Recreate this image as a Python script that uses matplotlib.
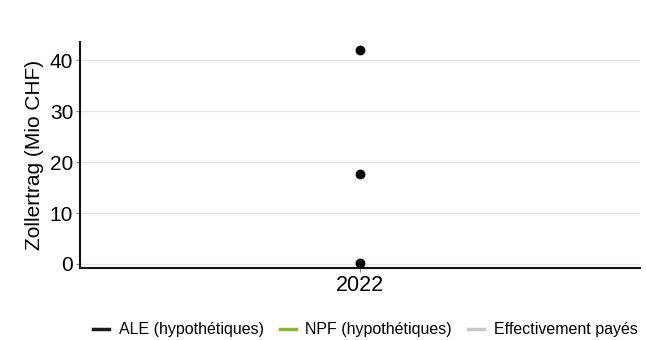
import matplotlib
matplotlib.use("Agg")
import matplotlib.pyplot as plt
from matplotlib.lines import Line2D

plt.rcParams['font.family'] = ['Liberation Sans', 'DejaVu Sans']

categories = ["2022"]
ale_values = [42.0]
npf_values = [17.7]
paid_values = [0.2]
y_ticks = [0, 10, 20, 30, 40]
legend_labels = ["ALE (hypothétiques)", "NPF (hypothétiques)", "Effectivement payés"]
legend_colors = ["#1a1a1a", "#8fb339", "#c8c8c8"]

fig = plt.figure(figsize=(6.46, 3.4), dpi=100)
ax = fig.add_axes([0.124, 0.212, 0.866, 0.664])

x = list(range(len(categories)))
for vals in (ale_values, npf_values, paid_values):
    ax.scatter(x, vals, s=50, color="black", zorder=3, linewidths=0)

ax.set_xlim(-1, 1)
ax.set_ylim(-0.8, 43.6)
ax.set_xticks(x)
ax.set_xticklabels(categories, fontsize=15.5)
ax.set_yticks(y_ticks)
ax.set_yticklabels([str(t) for t in y_ticks], fontsize=15)
ax.set_ylabel("Zollertrag (Mio CHF)", fontsize=15, labelpad=4)
ax.yaxis.grid(True, color="#e6e6e6", linewidth=1.0)
ax.set_axisbelow(True)
for s in ("top", "right"):
    ax.spines[s].set_visible(False)
for s in ("left", "bottom"):
    ax.spines[s].set_linewidth(1.5)
    ax.spines[s].set_color("#111111")
ax.tick_params(axis="both", color="#888888", length=3, width=0.8, pad=2)

handles = [Line2D([0], [0], color=c, lw=2.5) for c in legend_colors]
fig.legend(handles, legend_labels, loc="center right", bbox_to_anchor=(1.009, 0.03),
           ncol=3, frameon=False, fontsize=11.5, handlelength=1.0,
           handletextpad=0.6, columnspacing=1.0)

fig.savefig("out.png", dpi=100)
